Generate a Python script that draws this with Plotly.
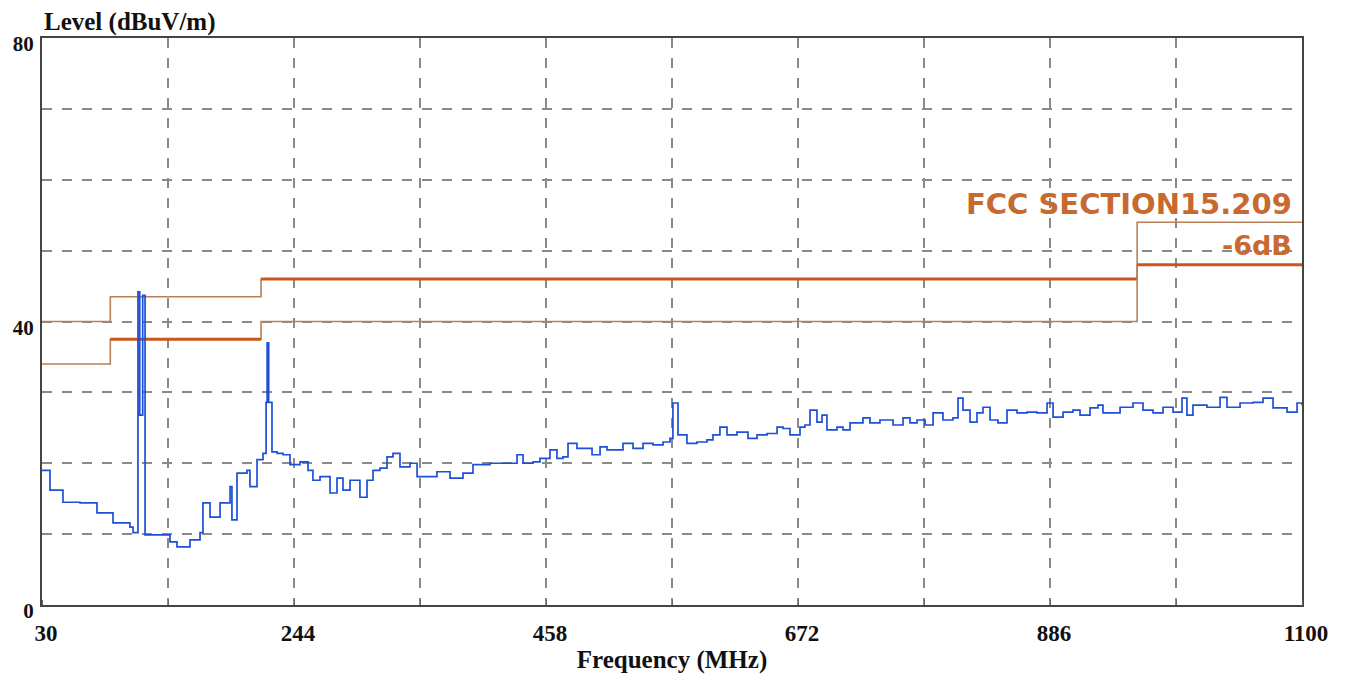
import plotly.graph_objects as go

# ---- data ----
freq_mhz = [30, 36.8, 47.8, 62.3, 76.7, 90.3, 104.7, 107.3, 110.5, 111.5, 113.0, 115.5, 117.5,
            121.7, 138.7, 144.6, 155.7, 164.2, 166.7, 172.7, 181.2, 189.7, 191.3, 195.6, 204.1,
            206.6, 212.6, 217.7, 219.5, 220.3, 221.2, 222.5, 225.3, 229.6, 234.7, 240.6, 249.1,
            255.9, 260.1, 266.1, 274.6, 280.5, 285.6, 291.6, 300.0, 306.0, 311.1, 317.0, 323.0,
            328.1, 334.0, 342.5, 348.5, 357.0, 365.4, 376.5, 387.5, 396.0, 410.4, 424.9, 433.4,
            438.5, 447.0, 452.9, 461.4, 467.3, 472.4, 476.7, 484.3, 489.4, 497.1, 503.9, 509.8,
            516.6, 523.4, 531.9, 540.4, 548.9, 557.4, 563.3, 565.8, 570.1, 577.7, 586.2, 594.7,
            599.8, 605.7, 611.7, 620.2, 629.5, 637.2, 645.7, 654.2, 659.3, 665.2, 673.7, 677.9,
            682.2, 688.1, 692.4, 696.6, 705.1, 710.2, 716.2, 724.7, 727.2, 733.1, 741.6, 752.7,
            761.2, 767.1, 773.1, 779.9, 786.7, 795.1, 803.6, 807.9, 812.1, 818.1, 824.0, 829.1,
            835.1, 841.8, 849.5, 858.0, 866.5, 875.0, 883.5, 888.6, 897.1, 905.5, 911.5, 920.0,
            926.8, 931.0, 939.5, 945.5, 956.5, 965.0, 973.5, 982.0, 990.5, 998.1, 1002.3, 1007.4,
            1019.3, 1030.4, 1036.3, 1047.4, 1058.4, 1066.9, 1075.4, 1087.3, 1095.8, 1100]
level_dbuv = [19.0, 16.2, 14.5, 14.4, 13.0, 11.6, 11.0, 10.2, 10.2, 44.2, 26.8, 43.7, 9.9,
              9.9, 8.9, 8.2, 9.2, 10.2, 14.4, 12.4, 14.4, 16.7, 12.0, 18.6, 19.0,
              16.7, 20.5, 21.4, 21.4, 28.6, 37.0, 28.6, 21.6, 21.4, 21.2, 19.8, 20.2,
              19.0, 17.6, 18.1, 15.8, 17.9, 16.2, 17.6, 15.2, 17.6, 19.0, 19.3, 20.9,
              21.4, 19.5, 20.0, 18.1, 18.1, 18.8, 17.9, 18.6, 19.8, 20.0, 20.0, 21.2,
              20.0, 20.2, 20.7, 21.9, 20.7, 20.9, 22.8, 22.1, 22.1, 21.2, 22.3, 21.9,
              21.9, 22.8, 22.1, 22.8, 22.6, 23.0, 23.5, 28.5, 24.0, 22.8, 23.0, 23.3,
              24.0, 25.1, 24.0, 24.4, 23.5, 24.0, 24.2, 25.1, 24.9, 24.0, 25.1, 25.4,
              27.5, 25.8, 26.8, 24.7, 25.1, 24.7, 25.7, 25.7, 26.4, 25.7, 26.1, 25.4,
              26.4, 25.7, 26.1, 25.4, 27.1, 26.1, 26.4, 29.2, 27.5, 25.8, 27.1, 27.9,
              26.1, 25.7, 27.5, 27.1, 27.2, 27.1, 28.5, 26.5, 27.2, 27.5, 26.8, 27.8,
              28.2, 27.1, 27.1, 27.9, 28.5, 27.5, 27.1, 27.9, 27.2, 29.2, 26.8, 28.2,
              27.9, 29.3, 27.9, 28.5, 28.6, 29.2, 27.8, 27.2, 28.5, 28.2]

limit_freq = [30, 88, 216, 960, 1100]
limit_level = [40, 43.5, 46, 54, 54]          # FCC SECTION15.209
margin_level = [34, 37.5, 40, 48, 48]         # -6dB

x_ticks = [30, 244, 458, 672, 886, 1100]
y_ticks = [0, 40, 80]

# ---- styles ----
THIN = "#b98058"
THICK = "#c9561c"
limit_thick_segments = [2]       # segment index drawn heavy on limit line
margin_thick_segments = [1, 3]   # segment index drawn heavy on -6dB line
SERIF = "Liberation Serif"

fig = go.Figure()

for levels, thick_idx in ((limit_level, limit_thick_segments), (margin_level, margin_thick_segments)):
    fig.add_trace(go.Scatter(x=limit_freq, y=levels, mode="lines", line=dict(color=THIN, width=1.6, shape="hv"),
                             hoverinfo="skip", showlegend=False))
    for i in thick_idx:
        fig.add_trace(go.Scatter(x=[limit_freq[i], limit_freq[i + 1]], y=[levels[i], levels[i]], mode="lines",
                                 line=dict(color=THICK, width=3), hoverinfo="skip", showlegend=False))

fig.add_trace(go.Scatter(x=freq_mhz, y=level_dbuv, mode="lines",
                         line=dict(color="#1d4fd8", width=1.7, shape="hv"), showlegend=False))

fig.add_annotation(x=1093, y=limit_level[3], xref="x", yref="y", text="<b>FCC SECTION15.209</b>",
                   showarrow=False, xanchor="right", yanchor="bottom", yshift=-1,
                   font=dict(family="DejaVu Sans", size=29, color="#c86a30"))
fig.add_annotation(x=1093, y=margin_level[3], xref="x", yref="y", text="<b>-6dB</b>",
                   showarrow=False, xanchor="right", yanchor="bottom", yshift=2,
                   font=dict(family="DejaVu Sans", size=27, color="#c86a30"))

fig.add_annotation(x=0, y=1, xref="paper", yref="paper", text="<b>Level (dBuV/m)</b>", showarrow=False,
                   xanchor="left", yanchor="bottom", yshift=0,
                   font=dict(family=SERIF, size=25, color="#111"))

grid_col = "#8a8a8a"
fig.update_xaxes(range=[30, 1100], tickvals=x_ticks, ticktext=[f"<b>{v}</b>" for v in x_ticks],
                 automargin=False,
                 showgrid=True, gridcolor=grid_col, gridwidth=2, griddash="10px,10px",
                 minor=dict(dtick=107, tick0=30, showgrid=True, gridcolor=grid_col, gridwidth=2,
                            griddash="10px,10px", ticks="inside", ticklen=5, tickcolor="#666"),
                 showline=True, linecolor="#444", linewidth=2, mirror=True, zeroline=False,
                 ticks="", ticklabelstandoff=6, ticklabelshift=4,
                 tickfont=dict(family=SERIF, size=23, color="#111"),
                 title=dict(text="<b>Frequency (MHz)</b>", font=dict(family=SERIF, size=25, color="#111"),
                            standoff=6))
fig.update_yaxes(range=[0, 80], tickvals=y_ticks, ticktext=[f"<b>{v}</b>" for v in y_ticks],
                 automargin=False,
                 showgrid=True, gridcolor=grid_col, gridwidth=2, griddash="10px,10px",
                 minor=dict(dtick=10, tick0=0, showgrid=True, gridcolor=grid_col, gridwidth=2,
                            griddash="10px,10px"),
                 showline=True, linecolor="#444", linewidth=2, mirror=True, zeroline=False,
                 ticks="", ticklabelstandoff=2, ticklabelshift=6,
                 tickfont=dict(family=SERIF, size=21, color="#111"))

fig.update_layout(width=1350, height=680, margin=dict(l=34, r=56, t=30, b=83),
                  paper_bgcolor="white", plot_bgcolor="white")

fig.write_html("out.html")
